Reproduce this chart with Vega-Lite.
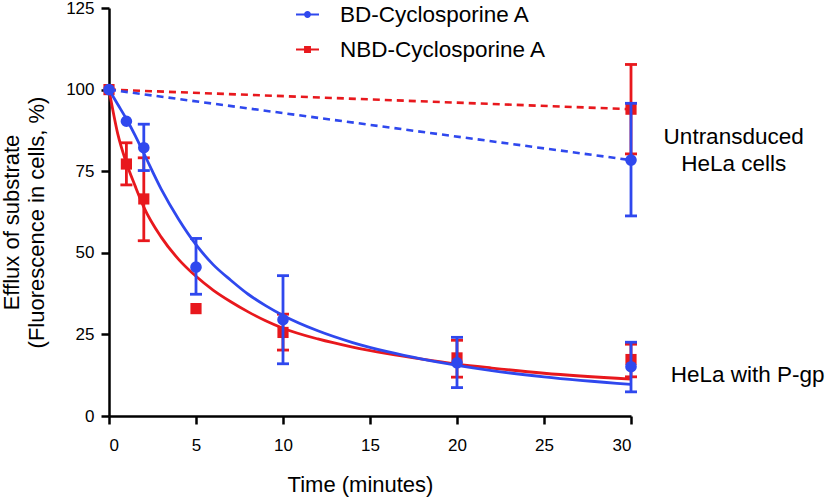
{
  "$schema": "https://vega.github.io/schema/vega-lite/v6.json",
  "width": 522,
  "height": 408,
  "autosize": {"type": "none"},
  "padding": {"left": 109, "top": 8, "right": 195, "bottom": 81},
  "background": "white",
  "config": {
    "view": {"stroke": null},
    "font": "Liberation Sans",
    "axis": {
      "domainColor": "black", "domainWidth": 2.5, "tickColor": "black", "tickWidth": 2.5, "tickSize": 8,
      "labelFont": "Liberation Sans", "labelFontSize": 17, "labelColor": "black",
      "titleFont": "Liberation Sans", "titleFontSize": 22, "titleFontWeight": "normal", "titleColor": "black",
      "grid": false
    }
  },
  "datasets": {
    "rows": [
      {"series": "BD-Cyclosporine A", "kind": "fit", "t": 0, "v": 100},
      {"series": "BD-Cyclosporine A", "kind": "fit", "t": 0.5, "v": 95.5},
      {"series": "BD-Cyclosporine A", "kind": "fit", "t": 1, "v": 91},
      {"series": "BD-Cyclosporine A", "kind": "fit", "t": 1.5, "v": 86},
      {"series": "BD-Cyclosporine A", "kind": "fit", "t": 2, "v": 80.5},
      {"series": "BD-Cyclosporine A", "kind": "fit", "t": 3, "v": 69.5},
      {"series": "BD-Cyclosporine A", "kind": "fit", "t": 4, "v": 60.3},
      {"series": "BD-Cyclosporine A", "kind": "fit", "t": 5, "v": 52.5},
      {"series": "BD-Cyclosporine A", "kind": "fit", "t": 6, "v": 46.3},
      {"series": "BD-Cyclosporine A", "kind": "fit", "t": 7, "v": 41.6},
      {"series": "BD-Cyclosporine A", "kind": "fit", "t": 8, "v": 37.3},
      {"series": "BD-Cyclosporine A", "kind": "fit", "t": 9, "v": 33.8},
      {"series": "BD-Cyclosporine A", "kind": "fit", "t": 10, "v": 30.8},
      {"series": "BD-Cyclosporine A", "kind": "fit", "t": 12, "v": 26.1},
      {"series": "BD-Cyclosporine A", "kind": "fit", "t": 14, "v": 22.5},
      {"series": "BD-Cyclosporine A", "kind": "fit", "t": 16, "v": 19.7},
      {"series": "BD-Cyclosporine A", "kind": "fit", "t": 18, "v": 17.4},
      {"series": "BD-Cyclosporine A", "kind": "fit", "t": 20, "v": 15.5},
      {"series": "BD-Cyclosporine A", "kind": "fit", "t": 22, "v": 13.9},
      {"series": "BD-Cyclosporine A", "kind": "fit", "t": 25, "v": 12},
      {"series": "BD-Cyclosporine A", "kind": "fit", "t": 30, "v": 9.7},
      {"series": "NBD-Cyclosporine A", "kind": "fit", "t": 0, "v": 100},
      {"series": "NBD-Cyclosporine A", "kind": "fit", "t": 0.5, "v": 86.5},
      {"series": "NBD-Cyclosporine A", "kind": "fit", "t": 1, "v": 77.5},
      {"series": "NBD-Cyclosporine A", "kind": "fit", "t": 1.5, "v": 70.5},
      {"series": "NBD-Cyclosporine A", "kind": "fit", "t": 2, "v": 64},
      {"series": "NBD-Cyclosporine A", "kind": "fit", "t": 3, "v": 54.8},
      {"series": "NBD-Cyclosporine A", "kind": "fit", "t": 4, "v": 48},
      {"series": "NBD-Cyclosporine A", "kind": "fit", "t": 5, "v": 42.8},
      {"series": "NBD-Cyclosporine A", "kind": "fit", "t": 6, "v": 38.5},
      {"series": "NBD-Cyclosporine A", "kind": "fit", "t": 7, "v": 35},
      {"series": "NBD-Cyclosporine A", "kind": "fit", "t": 8, "v": 31.9},
      {"series": "NBD-Cyclosporine A", "kind": "fit", "t": 9, "v": 29.2},
      {"series": "NBD-Cyclosporine A", "kind": "fit", "t": 10, "v": 26.9},
      {"series": "NBD-Cyclosporine A", "kind": "fit", "t": 12, "v": 23.6},
      {"series": "NBD-Cyclosporine A", "kind": "fit", "t": 14, "v": 21.1},
      {"series": "NBD-Cyclosporine A", "kind": "fit", "t": 16, "v": 19.1},
      {"series": "NBD-Cyclosporine A", "kind": "fit", "t": 18, "v": 17.4},
      {"series": "NBD-Cyclosporine A", "kind": "fit", "t": 20, "v": 15.9},
      {"series": "NBD-Cyclosporine A", "kind": "fit", "t": 22, "v": 14.7},
      {"series": "NBD-Cyclosporine A", "kind": "fit", "t": 25, "v": 13.1},
      {"series": "NBD-Cyclosporine A", "kind": "fit", "t": 30, "v": 11.3},
      {"series": "BD-Cyclosporine A", "kind": "dash", "t": 0, "v": 100},
      {"series": "BD-Cyclosporine A", "kind": "dash", "t": 30, "v": 78.4},
      {"series": "NBD-Cyclosporine A", "kind": "dash", "t": 0, "v": 100},
      {"series": "NBD-Cyclosporine A", "kind": "dash", "t": 30, "v": 94},
      {"series": "BD-Cyclosporine A", "kind": "obs", "t": 0, "v": 100, "lo": null, "hi": null},
      {"series": "BD-Cyclosporine A", "kind": "obs", "t": 1, "v": 90.3, "lo": null, "hi": null},
      {"series": "BD-Cyclosporine A", "kind": "obs", "t": 2, "v": 82.2, "lo": 75.2, "hi": 89.4},
      {"series": "BD-Cyclosporine A", "kind": "obs", "t": 5, "v": 45.6, "lo": 37.3, "hi": 54.4},
      {"series": "BD-Cyclosporine A", "kind": "obs", "t": 10, "v": 29.5, "lo": 16, "hi": 43},
      {"series": "BD-Cyclosporine A", "kind": "obs", "t": 20, "v": 16.3, "lo": 8.7, "hi": 24.1},
      {"series": "BD-Cyclosporine A", "kind": "obs", "t": 30, "v": 15.1, "lo": 7.4, "hi": 22.6},
      {"series": "BD-Cyclosporine A", "kind": "obs", "t": 30, "v": 78.4, "lo": 61.3, "hi": 95.8},
      {"series": "NBD-Cyclosporine A", "kind": "obs", "t": 0, "v": 100, "lo": null, "hi": null},
      {"series": "NBD-Cyclosporine A", "kind": "obs", "t": 1, "v": 77.2, "lo": 70.8, "hi": 83.7},
      {"series": "NBD-Cyclosporine A", "kind": "obs", "t": 2, "v": 66.5, "lo": 53.7, "hi": 79.1},
      {"series": "NBD-Cyclosporine A", "kind": "obs", "t": 5, "v": 32.9, "lo": null, "hi": null},
      {"series": "NBD-Cyclosporine A", "kind": "obs", "t": 10, "v": 25.6, "lo": 20.2, "hi": 31.2},
      {"series": "NBD-Cyclosporine A", "kind": "obs", "t": 20, "v": 17.8, "lo": 11.9, "hi": 23.2},
      {"series": "NBD-Cyclosporine A", "kind": "obs", "t": 30, "v": 17.3, "lo": 12.0, "hi": 22.0},
      {"series": "NBD-Cyclosporine A", "kind": "obs", "t": 30, "v": 94, "lo": 80.3, "hi": 107.7}
    ],
    "notes": [
      {"t": 35.9, "v": 85.6, "label": "Untransduced\nHeLa cells"},
      {"t": 36.7, "v": 12.6, "label": "HeLa with P-gp"}
    ]
  },
  "encoding": {
    "x": {
      "field": "t", "type": "quantitative",
      "scale": {"domain": [0, 30], "nice": false, "zero": false},
      "axis": {"values": [0, 5, 10, 15, 20, 25, 30], "title": "Time (minutes)", "labelPadding": 13, "titleX": 251, "titleY": 58, "titleBaseline": "top"}
    },
    "y": {
      "field": "v", "type": "quantitative",
      "scale": {"domain": [0, 125], "nice": false},
      "axis": {"values": [0, 25, 50, 75, 100, 125], "title": ["Efflux of substrate", "(Fluorescence in cells, %)"], "labelPadding": 7, "titleLineHeight": 25, "titleAngle": -90, "titleX": -86, "titleY": 214, "titleAlign": "center", "titleBaseline": "bottom"}
    },
    "color": {
      "field": "series", "type": "nominal",
      "scale": {"domain": ["BD-Cyclosporine A", "NBD-Cyclosporine A"], "range": ["#2f48ee", "#e8181d"]},
      "legend": {
        "orient": "none", "legendX": 187, "legendY": -5, "title": null, "padding": 0,
        "symbolSize": 529, "symbolStrokeWidth": 0, "labelOffset": 21, "rowPadding": 12, "labelLimit": 400,
        "labelFont": "Liberation Sans", "labelFontSize": 22.5, "labelColor": "black",
        "encode": {
          "symbols": {
            "update": {
              "shape": {"signal": "datum.value === 'BD-Cyclosporine A' ? 'M-1,-0.09H1V0.09H-1Z M0.3,0A0.3,0.3 0 1,1 -0.3,0A0.3,0.3 0 1,1 0.3,0Z' : 'M-1,-0.09H1V0.09H-1Z M-0.3,-0.3H0.3V0.3H-0.3Z'"},
              "stroke": {"value": "transparent"},
              "opacity": {"value": 1}
            }
          }
        }
      }
    }
  },
  "layer": [
    {
      "data": {"name": "rows"},
      "transform": [{"filter": "datum.series === 'NBD-Cyclosporine A'"}],
      "layer": [
        {"transform": [{"filter": "datum.kind === 'fit'"}], "mark": {"type": "line", "interpolate": "monotone", "strokeWidth": 2.8}},
        {"transform": [{"filter": "datum.kind === 'dash'"}], "mark": {"type": "line", "strokeWidth": 2.6, "strokeDash": [7, 5]}},
        {"transform": [{"filter": "datum.kind === 'obs' && isValid(datum.lo)"}], "mark": {"type": "rule", "strokeWidth": 2.8, "opacity": 1},
         "encoding": {"y": {"field": "lo", "type": "quantitative"}, "y2": {"field": "hi"}}},
        {"transform": [{"filter": "datum.kind === 'obs' && isValid(datum.lo)"}], "mark": {"type": "tick", "orient": "horizontal", "size": 12, "thickness": 2.8, "opacity": 1},
         "encoding": {"y": {"field": "lo", "type": "quantitative"}}},
        {"transform": [{"filter": "datum.kind === 'obs' && isValid(datum.hi)"}], "mark": {"type": "tick", "orient": "horizontal", "size": 12, "thickness": 2.8, "opacity": 1},
         "encoding": {"y": {"field": "hi", "type": "quantitative"}}},
        {"transform": [{"filter": "datum.kind === 'obs'"}], "mark": {"type": "point", "shape": "square", "filled": true, "opacity": 1, "size": 125}}
      ]
    },
    {
      "data": {"name": "rows"},
      "transform": [{"filter": "datum.series === 'BD-Cyclosporine A'"}],
      "layer": [
        {"transform": [{"filter": "datum.kind === 'fit'"}], "mark": {"type": "line", "interpolate": "monotone", "strokeWidth": 2.8}},
        {"transform": [{"filter": "datum.kind === 'dash'"}], "mark": {"type": "line", "strokeWidth": 2.6, "strokeDash": [7, 5]}},
        {"transform": [{"filter": "datum.kind === 'obs' && isValid(datum.lo)"}], "mark": {"type": "rule", "strokeWidth": 2.8, "opacity": 1},
         "encoding": {"y": {"field": "lo", "type": "quantitative"}, "y2": {"field": "hi"}}},
        {"transform": [{"filter": "datum.kind === 'obs' && isValid(datum.lo)"}], "mark": {"type": "tick", "orient": "horizontal", "size": 12, "thickness": 2.8, "opacity": 1},
         "encoding": {"y": {"field": "lo", "type": "quantitative"}}},
        {"transform": [{"filter": "datum.kind === 'obs' && isValid(datum.hi)"}], "mark": {"type": "tick", "orient": "horizontal", "size": 12, "thickness": 2.8, "opacity": 1},
         "encoding": {"y": {"field": "hi", "type": "quantitative"}}},
        {"transform": [{"filter": "datum.kind === 'obs'"}], "mark": {"type": "point", "shape": "circle", "filled": true, "opacity": 1, "size": 135}}
      ]
    },
    {
      "data": {"name": "notes"},
      "mark": {"type": "text", "font": "Liberation Sans", "fontSize": 22.5, "align": "center", "baseline": "middle", "lineBreak": "\n", "lineHeight": 27, "color": "black"},
      "encoding": {"text": {"field": "label"}, "color": {"value": "black"}}
    }
  ]
}
